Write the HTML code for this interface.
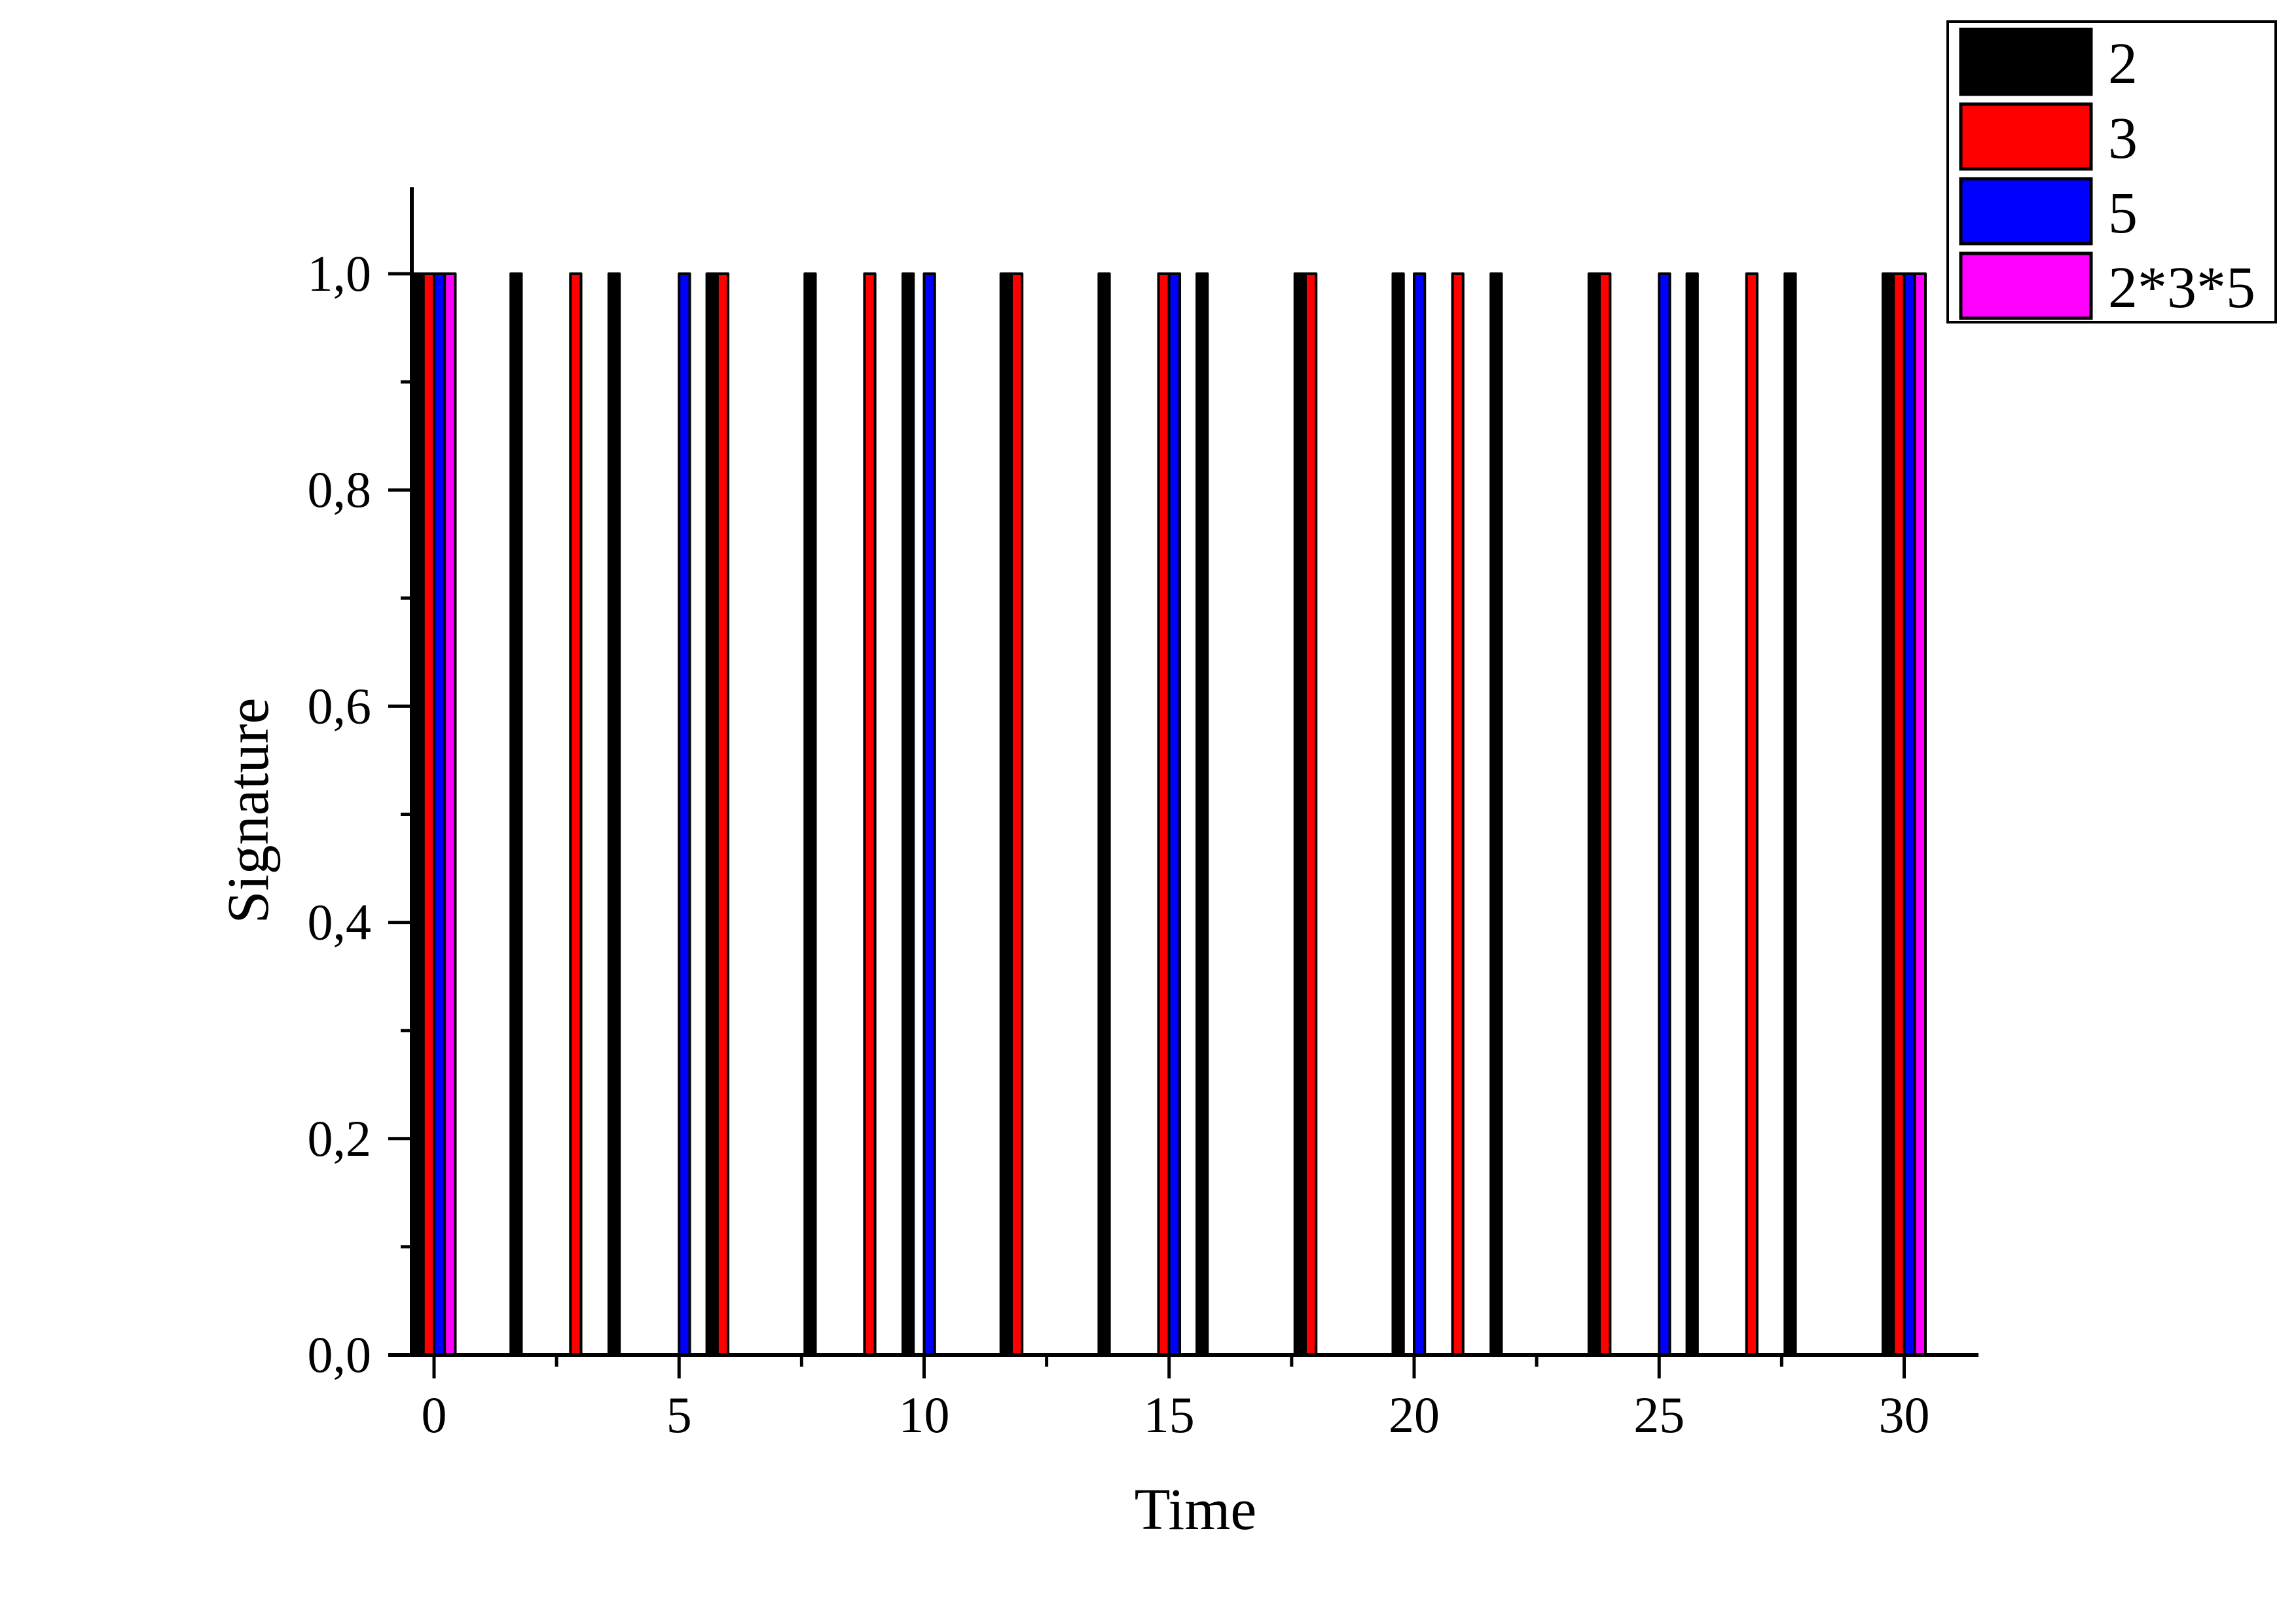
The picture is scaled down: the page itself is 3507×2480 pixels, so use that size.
<!DOCTYPE html>
<html><head><meta charset="utf-8"><style>
html,body{margin:0;padding:0;background:#fff;}
svg{display:block;}
text{font-family:"Liberation Serif",serif;fill:#000;}
</style></head><body>
<svg width="3507" height="2480" viewBox="0 0 3507 2480" xmlns="http://www.w3.org/2000/svg">
<rect width="3507" height="2480" fill="#fff"/>
<g id="bars" stroke="#000" stroke-width="4" stroke-linejoin="round"></g>
<line x1="629" y1="286" x2="629" y2="2072" stroke="#000" stroke-width="6"/>
<line x1="593" y1="2069" x2="3022" y2="2069" stroke="#000" stroke-width="6"/>
<g id="ticks" stroke="#000" stroke-width="5"></g>
<g id="labels" font-size="78"></g>
<text x="1826" y="2335" font-size="90" text-anchor="middle">Time</text>
<text transform="translate(409,1238) rotate(-90)" font-size="90" text-anchor="middle">Signature</text>
<rect x="2975" y="33" width="501" height="459" fill="#fff" stroke="#000" stroke-width="4"/>
<rect x="2995" y="45" width="199" height="99" fill="#000" stroke="#000" stroke-width="5"/>
<rect x="2995" y="159" width="199" height="99" fill="#f00" stroke="#000" stroke-width="5"/>
<rect x="2995" y="273" width="199" height="99" fill="#00f" stroke="#000" stroke-width="5"/>
<rect x="2995" y="387" width="199" height="99" fill="#f0f" stroke="#000" stroke-width="5"/>
<text x="3220" y="127" font-size="90">2</text>
<text x="3220" y="241" font-size="90">3</text>
<text x="3220" y="355" font-size="90">5</text>
<text x="3220" y="469" font-size="90">2*3*5</text>
<script>
(function(){
var ns="http://www.w3.org/2000/svg";
function el(p,t,a){var e=document.createElementNS(ns,t);for(var k in a)e.setAttribute(k,a[k]);p.appendChild(e);return e;}
var x0=663,ux=74.85,y0=2069,y1=418,bw=16.25;
var bars=document.getElementById('bars');
var ser=[[2,'#000',-1.5],[3,'#f00',-0.5],[5,'#00f',0.5],[30,'#f0f',1.5]];
for(var t=0;t<=30;t++){for(var s=0;s<4;s++){var d=ser[s][0];if(t%d==0){
var cx=x0+t*ux+ser[s][2]*bw;el(bars,'rect',{x:cx-bw/2,y:y1,width:bw,height:y0-y1,fill:ser[s][1]});}}}
var tk=document.getElementById('ticks'),lb=document.getElementById('labels');
for(var v=0;v<=30;v+=2.5){var x=x0+v*ux;var maj=(v%5==0);
el(tk,'line',{x1:x,y1:y0,x2:x,y2:y0+(maj?36:18)});
if(maj){var t2=el(lb,'text',{x:x,y:2187,'text-anchor':'middle'});t2.textContent=String(v);}}
for(var i=0;i<=10;i++){var y=y0-(y0-y1)*i/10;var maj=(i%2==0);
el(tk,'line',{x1:629,y1:y,x2:629-(maj?36:17),y2:y});
if(maj){var t3=el(lb,'text',{x:567,y:y+26,'text-anchor':'end'});t3.textContent=(i/10).toFixed(1).replace('.',',');}}
})();
</script>
</svg>
</body></html>
